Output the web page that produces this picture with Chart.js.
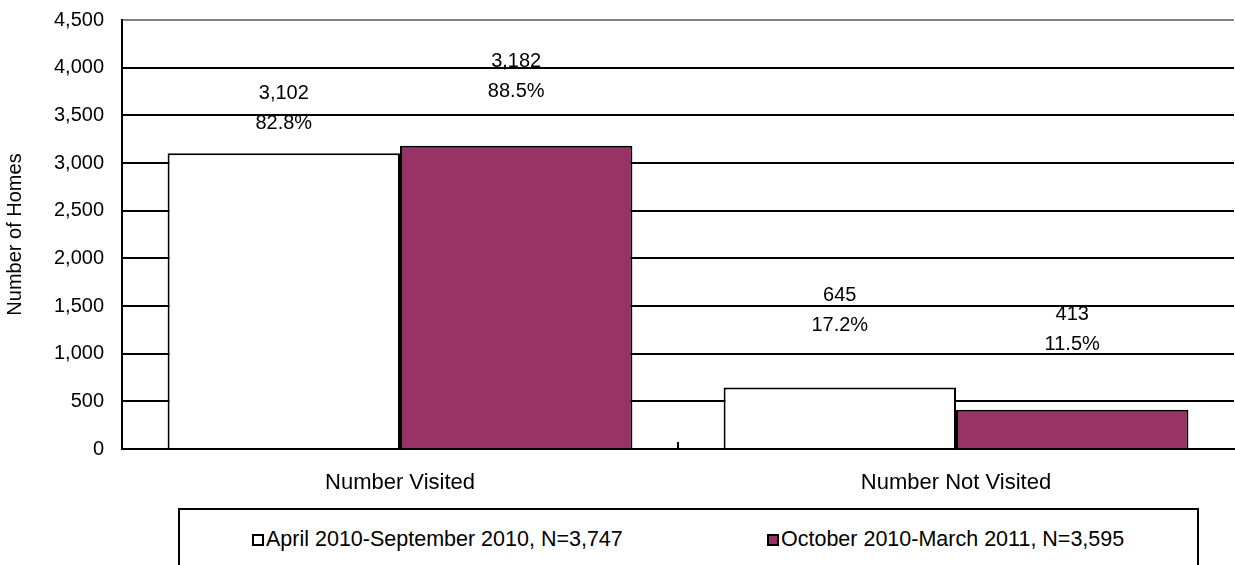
<!DOCTYPE html>
<html>
<head>
<meta charset="utf-8">
<script src="https://cdn.jsdelivr.net/npm/chart.js@4"></script>
<style>
  html, body { margin: 0; padding: 0; background: #fff; }
  #wrap { position: relative; width: 1235px; height: 565px; overflow: hidden; }
  #chart { position: absolute; left: 0; top: 0; }
  #legend {
    position: absolute; left: 178px; top: 508px; width: 1021px; height: 80px;
    border: 2px solid #000; box-sizing: border-box;
    font-family: "Liberation Sans", Arial, sans-serif; font-size: 21.5px; color: #000;
  }
  .item { position: absolute; top: 17px; display: flex; align-items: center; white-space: nowrap; }
  .sw { width: 8px; height: 8px; border: 2px solid #000; margin-right: 2px; }
</style>
</head>
<body>
<div id="wrap">
  <canvas id="chart" width="1235" height="505"></canvas>
  <div id="legend"></div>
</div>
<script>
// === Dados do gráfico ===
const categories = ['Number Visited', 'Number Not Visited'];
const seriesNames = ['April 2010-September 2010, N=3,747', 'October 2010-March 2011, N=3,595'];
const aprSep = [3102, 645];
const octMar = [3182, 413];
const aprSepPct = ['82.8%', '17.2%'];
const octMarPct = ['88.5%', '11.5%'];
const yTicks = [0, 500, 1000, 1500, 2000, 2500, 3000, 3500, 4000, 4500];

// === Posição dos rótulos (valor no eixo y da primeira linha) ===
const labelAnchor = [[3724, 1615], [4060, 1406]];

const colors = ['#ffffff', '#993366'];
const FONT = '"Liberation Sans", Arial, sans-serif';

// === Legenda em HTML ===
const legend = document.getElementById('legend');
const legendX = [72, 587];
seriesNames.forEach((name, i) => {
  const div = document.createElement('div');
  div.className = 'item';
  div.style.left = legendX[i] + 'px';
  div.innerHTML = `<span class="sw" style="background:${colors[i]}"></span><span>${name}</span>`;
  legend.appendChild(div);
});

// === Rótulos de dados e marca entre categorias ===
const extras = {
  id: 'extras',
  afterDatasetsDraw(chart) {
    const ctx = chart.ctx;
    const y = chart.scales.y, x = chart.scales.x;
    const pcts = [aprSepPct, octMarPct];
    ctx.save();
    ctx.fillStyle = '#000';
    ctx.font = '20px ' + FONT;
    ctx.textAlign = 'center';
    ctx.textBaseline = 'middle';
    chart.data.datasets.forEach((ds, di) => {
      chart.getDatasetMeta(di).data.forEach((bar, i) => {
        const ty = y.getPixelForValue(labelAnchor[di][i]);
        ctx.fillText(ds.data[i].toLocaleString('en-US'), bar.x, ty);
        ctx.fillText(pcts[di][i], bar.x, ty + 30);
      });
    });
    // marca pequena no eixo x entre as categorias
    const mx = Math.round((x.getPixelForTick(0) + x.getPixelForTick(1)) / 2);
    ctx.strokeStyle = '#000';
    ctx.lineWidth = 2;
    ctx.beginPath();
    ctx.moveTo(mx, chart.chartArea.bottom);
    ctx.lineTo(mx, chart.chartArea.bottom - 7);
    ctx.stroke();
    ctx.restore();
  }
};

new Chart(document.getElementById('chart'), {
  type: 'bar',
  data: {
    labels: categories,
    datasets: [
      { label: seriesNames[0], data: aprSep, backgroundColor: colors[0] },
      { label: seriesNames[1], data: octMar, backgroundColor: colors[1] }
    ]
  },
  options: {
    responsive: false,
    animation: false,
    layout: { padding: { top: 20, right: 1, left: 0, bottom: 0 } },
    datasets: {
      bar: {
        categoryPercentage: 0.836,
        barPercentage: 1,
        borderColor: '#000',
        borderWidth: 2
      }
    },
    scales: {
      x: {
        grid: { display: false, drawTicks: false },
        border: { color: '#000', width: 2 },
        ticks: { color: '#000', font: { family: FONT, size: 22 }, padding: 21 },
        afterFit: s => { s.height = 56; s.paddingLeft = 0; s.paddingRight = 0; }
      },
      y: {
        min: 0, max: 4500,
        afterBuildTicks: s => { s.ticks = yTicks.map(v => ({ value: v })); },
        grid: {
          drawTicks: false,
          lineWidth: 2,
          color: c => (c.tick && c.tick.value === 4500 ? '#808080' : '#000')
        },
        border: { color: '#000', width: 2 },
        ticks: {
          color: '#000',
          font: { family: FONT, size: 20 },
          padding: 18,
          callback: v => v.toLocaleString('en-US')
        },
        title: {
          display: true,
          text: 'Number of Homes',
          color: '#000',
          font: { family: FONT, size: 20 },
          padding: { top: 3, bottom: 4 }
        },
        afterFit: s => { s.width = 122; s.paddingTop = 0; s.paddingBottom = 0; }
      }
    },
    plugins: {
      legend: { display: false },
      tooltip: { enabled: false }
    }
  },
  plugins: [extras]
});
</script>
</body>
</html>
